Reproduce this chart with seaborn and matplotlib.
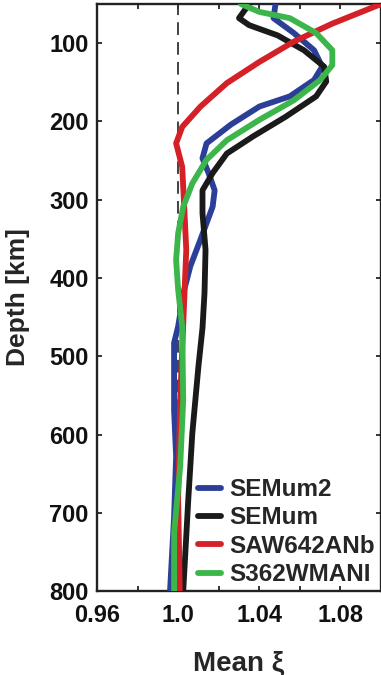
import numpy as np
import pandas as pd
import matplotlib
matplotlib.use("Agg")
import matplotlib.pyplot as plt
import seaborn as sns

# Mean xi profiles (depth in km)
models = ["SEMum2", "SEMum", "SAW642ANb", "S362WMANI"]
colors = ["#2b3f98", "#1a1a1a", "#d42027", "#3cb54a"]

semum2_depth = [50, 68, 87, 109, 130, 147, 168, 181, 204, 228, 247, 266, 288, 309,
                351, 385, 415, 462, 483, 521, 569, 628, 705, 800]
semum2_xi = [1.048, 1.047, 1.057, 1.067, 1.071, 1.067, 1.055, 1.040, 1.026, 1.014,
             1.012, 1.015, 1.018, 1.017, 1.011, 1.006, 1.003, 1.000, 0.998, 0.998,
             0.998, 0.999, 0.998, 0.996]

semum_depth = [50, 68, 77, 90, 109, 130, 149, 168, 194, 219, 241, 266, 288, 317,
               364, 419, 464, 513, 598, 683, 800]
semum_xi = [1.035, 1.030, 1.035, 1.049, 1.062, 1.072, 1.073, 1.068, 1.053, 1.037,
            1.024, 1.017, 1.012, 1.012, 1.0135, 1.013, 1.012, 1.010, 1.007, 1.005,
            1.0025]

saw_depth = [50, 75, 98, 124, 151, 181, 207, 228, 258, 309, 364, 428, 556, 683, 800]
saw_xi = [1.100, 1.076, 1.057, 1.040, 1.024, 1.011, 1.002, 0.999, 1.002, 1.003,
          1.004, 1.003, 1.001, 1.000, 1.0008]

s362_depth = [50, 60, 68, 87, 109, 128, 147, 173, 198, 224, 249, 279, 309, 343,
              377, 415, 462, 556, 641, 726, 800]
s362_xi = [1.031, 1.040, 1.055, 1.068, 1.076, 1.076, 1.070, 1.057, 1.040, 1.024,
           1.014, 1.007, 1.0025, 1.000, 0.999, 1.000, 1.002, 1.0025, 1.001, 0.998,
           0.998]

x_major = [0.96, 1.0, 1.04, 1.08]
x_major_labels = ["0.96", "1.0", "1.04", "1.08"]
x_minor = [0.98, 1.02, 1.06]
y_ticks = [100, 200, 300, 400, 500, 600, 700, 800]

frames = []
for name, d, xi in [("SEMum2", semum2_depth, semum2_xi),
                    ("SEMum", semum_depth, semum_xi),
                    ("SAW642ANb", saw_depth, saw_xi),
                    ("S362WMANI", s362_depth, s362_xi)]:
    frames.append(pd.DataFrame({"depth": d, "xi": xi, "model": name}))
df = pd.concat(frames, ignore_index=True)

sns.set_theme(style="ticks")
plt.rcParams['font.family'] = ['Liberation Sans', 'DejaVu Sans']
plt.rcParams['font.weight'] = 'bold'

fig = plt.figure(figsize=(3.81, 6.75), dpi=100)
ax = fig.add_axes([0.2546, 0.1244, 0.7454, 0.8696])

ax.axvline(1.0, color="#333333", lw=1.3, ls=(0, (7, 4)), zorder=1)

sns.lineplot(data=df, x="xi", y="depth", hue="model", hue_order=models,
             palette=colors, sort=False, estimator=None, lw=4.2, ax=ax,
             zorder=3)

ax.set_xlim(0.96, 1.10)
ax.set_ylim(800, 50)
ax.set_xticks(x_major)
ax.set_xticklabels(x_major_labels)
ax.set_xticks(x_minor, minor=True)
ax.set_yticks(y_ticks)

ax.tick_params(which="both", direction="in", top=True, right=True,
               length=3.5, width=1.2, labelsize=17, colors="#111111")
ax.tick_params(axis="x", pad=9)
ax.tick_params(axis="y", pad=6)
for lab in ax.get_xticklabels() + ax.get_yticklabels():
    lab.set_fontweight("bold")
for sp in ax.spines.values():
    sp.set_linewidth(1.7)
    sp.set_color("#222222")

ax.set_xlabel("Mean ξ", fontsize=20, fontweight="bold", labelpad=17)
ax.set_ylabel("Depth [km]", fontsize=19, fontweight="bold", labelpad=14)

leg = ax.legend(loc="lower right", bbox_to_anchor=(0.995, 0.0),
                frameon=False, fontsize=17.5, handlelength=0.95,
                handletextpad=0.33, labelspacing=0.22, borderaxespad=0.0,
                borderpad=0.2)
for t in leg.get_texts():
    t.set_fontweight("bold")
for h in leg.get_lines():
    h.set_linewidth(4.2)

fig.savefig("out.png", dpi=100)
